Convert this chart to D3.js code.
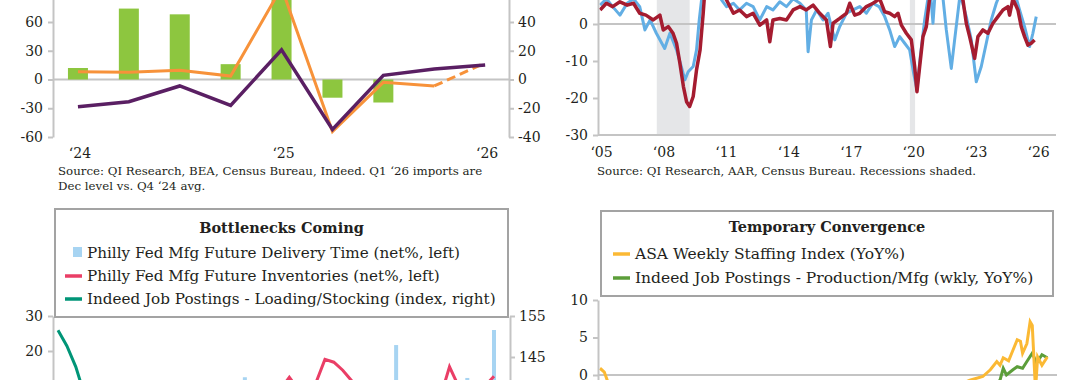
<!DOCTYPE html>
<html>
<head>
<meta charset="utf-8">
<script src="https://cdnjs.cloudflare.com/ajax/libs/d3/7.8.5/d3.min.js"></script>
<style>
  body { margin: 0; background: #fff; }
  svg { display: block; }
</style>
</head>
<body>
<svg id="chart" width="1080" height="380"></svg>
<script>
// ---------- data ----------
// top left: quarterly
const quarters = ["2024Q1", "2024Q2", "2024Q3", "2024Q4", "2025Q1", "2025Q2", "2025Q3", "2025Q4", "2026Q1"];
const quarterLabels = { "2024Q1": "\u201824", "2025Q1": "\u201825", "2026Q1": "\u201826" };
const importBars = [12, 74, 68, 16, 95, -19, -24, null, null];      // left axis
const purpleValues = [-19, -15.5, -4.5, -18, 20.6, -34.7, 2.9, 7.3, 10.1]; // right axis
const orangeValues = [5.4, 5, 6.4, 2.4, 64, -36.2, -2, -4.5, 11.5];    // right axis, last leg dashed

// top right: YoY%, 2005-2026
const railYears = [2005.2, 2005.5, 2005.8, 2006.15, 2006.5, 2006.8, 2007.1, 2007.35, 2007.6, 2007.9, 2008.3, 2008.55, 2008.87, 2009.1, 2009.27, 2009.43, 2009.67, 2009.83, 2009.96, 2010.07, 2010.3, 2010.6, 2010.9, 2011.03, 2011.27, 2011.6, 2011.9, 2012.23, 2012.55, 2012.87, 2013.2, 2013.5, 2013.83, 2014.15, 2014.47, 2014.8, 2015.1, 2015.19, 2015.35, 2015.6, 2015.91, 2016.15, 2016.47, 2016.71, 2017.03, 2017.35, 2017.67, 2017.99, 2018.3, 2018.6, 2018.87, 2019.11, 2019.35, 2019.59, 2019.83, 2020.07, 2020.26, 2020.42, 2020.58, 2020.79, 2020.95, 2021.05, 2021.19, 2021.3, 2021.5, 2021.67, 2021.83, 2022.07, 2022.23, 2022.47, 2022.6, 2022.79, 2023.03, 2023.27, 2023.51, 2023.75, 2023.99, 2024.23, 2024.4, 2024.7, 2025.0, 2025.2, 2025.35, 2025.59, 2025.83, 2025.99, 2026.15];
const railYoY = [5.1, 6.8, 4.7, 2.4, 5.6, 6.8, 4.7, -1.6, 1.1, -2.5, -6.6, -2.5, -7, -11.5, -15.1, -12.9, -11.5, -7, 1.1, 6.5, 10, 12, 9, 6.5, 4.7, 5.6, 3.8, 5.6, 4.7, 1.1, 4.7, 3.8, 6, 4.7, 6.8, 5.6, 3.8, -7.5, 1.1, 3.8, 1.1, 2.9, -4.3, -0.7, 2.9, 3.8, 4.7, 2.9, 5.6, 4.7, 2, -1.6, -6.1, -3.4, -5.2, -7, -13.3, -17.8, -8.8, 1.1, 7, 10, 0.2, 9, 12, 7, -1.6, -12, -4.3, 7, 6, 2, -4.3, -15.6, -11.5, -5.2, 1.1, 5.6, 8, 9, 8, 6.8, 3.8, -0.7, -6.1, -2.5, 2];
const salesYears = [2005.2, 2005.5, 2005.8, 2006.15, 2006.5, 2006.8, 2007.1, 2007.4, 2007.75, 2008.07, 2008.23, 2008.47, 2008.7, 2008.87, 2009.03, 2009.2, 2009.35, 2009.5, 2009.67, 2009.83, 2010.0, 2010.15, 2010.23, 2010.5, 2010.8, 2011.1, 2011.27, 2011.6, 2011.9, 2012.23, 2012.55, 2012.87, 2013.2, 2013.35, 2013.5, 2013.83, 2014.15, 2014.47, 2014.8, 2015.1, 2015.43, 2015.75, 2016.07, 2016.26, 2016.39, 2016.71, 2017.03, 2017.19, 2017.43, 2017.67, 2017.99, 2018.31, 2018.63, 2018.87, 2019.11, 2019.35, 2019.51, 2019.67, 2019.91, 2020.15, 2020.31, 2020.42, 2020.55, 2020.71, 2020.87, 2021.03, 2021.3, 2021.6, 2021.9, 2022.3, 2022.63, 2022.79, 2022.95, 2023.19, 2023.35, 2023.59, 2023.83, 2024.07, 2024.31, 2024.55, 2024.79, 2024.87, 2025.03, 2025.27, 2025.43, 2025.59, 2025.75, 2025.91, 2026.07];
const salesYoY = [3.8, 5.6, 4.7, 6, 5.1, 5.6, 2.9, 2.4, 1.1, 2.4, -1.6, -0.7, -2.5, -5.2, -10.6, -16.9, -21, -22.3, -19.6, -12.4, -7, 2.9, 9, 14, 12, 8, 6.5, 2.9, 3.8, 2, 2.9, -0.3, 1.1, -4.8, 1.1, 1.5, 1.1, 3.8, 4.7, 3.8, 5.1, 2.9, 1.1, -6.1, 0.2, 1.5, 2.9, 5.6, 2.4, 2.9, 4.7, 5.6, 6.8, 3.3, 2.9, 2, 2.9, -0.3, -2.5, -4.3, -11.5, -18.3, -11.5, -3.4, -0.7, 7, 14, 12, 10, 9, 6.5, 0.2, -3.4, -9.3, -3.4, -1.6, -2.5, 0.2, 2, 3.8, 4.7, 2.4, 6.8, 3.8, -0.7, -3.4, -5.7, -5.2, -4.3];
const recessions = [[2007.92, 2009.5], [2020.08, 2020.33]];
const yearTicks = [2005, 2008, 2011, 2014, 2017, 2020, 2023, 2026];

// bottom left: monthly index 0..49
const deliveryTime = [4, 6, 2, -3, 5, 7, 1, -2, 3, 6, 8, 2, -4, 0, 5, 3, 7, 1, -1, 4, 6, 12.5, 3, 5, -2, 2, 6, 4, 1, 7, 3, -1, 5, 8, 2, 4, 6, 3, 21.7, 5, 2, 7, 4, 1, 6, 3, 12.3, 8, 5, 26];
const inventories = [2, 4, 1, 3, -2, 0, 5, 3, 1, -1, 2, 4, 6, 3, 5, 2, 4, 7, 5, 3, 6, 4, 2, 5, 7, 9, 12.5, 9, 8, 11, 17.6, 16.8, 14.5, 11.5, 8, 6, 7, 5, 8, 6, 4, 7, 5, 7, 15.5, 10, 7, 8, 10, 12.8];
const loadingIdx = [151.5, 147.7, 142.6, 135.6, 131, 128, 126, 125, 123, 121, 120, 118, 117, 118, 116, 114, 113, 112, 111, 110, 109, 108, 107, 106, 106, 105, 104, 103, 102, 101, 100, 100, 99, 98, 97, 97, 96, 95, 95, 94, 93, 93, 92, 92, 91, 91, 90, 90, 89, 89];

// bottom right: YoY%
const asaYears = [2022.0, 2022.04, 2022.08, 2022.2, 2022.5, 2023.0, 2023.5, 2024.0, 2024.5, 2025.0, 2025.3, 2025.44, 2025.56, 2025.63, 2025.69, 2025.72, 2025.75, 2025.8, 2025.84, 2025.88, 2025.91, 2025.93, 2025.97, 2026.0, 2026.02, 2026.05, 2026.07, 2026.11, 2026.16];
const asaYoY = [0.9, 0.4, -1.2, -3, -4, -8, -10, -9, -6, -3, -1.5, -0.7, -0.2, 0.7, 1.8, 1.3, 2.3, 1.9, 3.3, 4.7, 4.5, 2.9, 4.2, 7.1, 6.6, -2, 2.4, 1.3, 2.4];
const prodYears = [2022.1, 2023.0, 2024.0, 2025.0, 2025.6, 2025.72, 2025.75, 2025.78, 2025.84, 2025.88, 2025.93, 2025.97, 2026.02, 2026.06, 2026.11, 2026.16];
const prodYoY = [-8, -15, -18, -8, -2, -0.7, 0.9, 0, 0.7, 1.1, 0.9, 1.8, 2.9, 1.6, 2.7, 2.3];

// ---------- look ----------
const serif = "'DejaVu Serif', 'Liberation Serif', serif";
const ink = "#231f20";
const axisGray = "#c4c4c4";

const svg = d3.select("#chart");
svg.append("rect").attr("width", 1080).attr("height", 380).attr("fill", "#fff");

function styleAxis(g) {
    g.attr("font-family", serif).attr("font-size", 14);
    g.select(".domain").attr("stroke", axisGray).attr("stroke-width", 2);
    g.selectAll(".tick line").attr("stroke", axisGray).attr("stroke-width", 2);
    g.selectAll(".tick text").attr("fill", ink);
}

const lineGen = (x, y) => d3.line().x(d => x(d[0])).y(d => y(d[1]));

// ================= top left =================
{
    const x = d3.scalePoint().domain(quarters).range([52.5, 510.6]).padding(0.5);
    const yL = d3.scaleLinear().domain([-60, 90]).range([137, -6.75]);
    const yR = d3.scaleLinear().domain([-40, 60]).range([137, -6.75]);
    const g = svg.append("g");

    // zero line
    g.append("line").attr("x1", 53).attr("x2", 509).attr("y1", yL(0)).attr("y2", yL(0))
        .attr("stroke", axisGray).attr("stroke-width", 2);

    g.selectAll("rect.bar")
        .data(quarters.map((q, i) => [q, importBars[i]]).filter(d => d[1] != null))
        .join("rect")
        .attr("class", "bar")
        .attr("x", d => x(d[0]) - 10)
        .attr("width", 20)
        .attr("y", d => yL(Math.max(0, d[1])))
        .attr("height", d => Math.abs(yL(d[1]) - yL(0)))
        .attr("fill", "#8dc63f");

    const xq = q => x(q);
    const orangePts = quarters.map((q, i) => [q, orangeValues[i]]);
    g.append("path").datum(orangePts.slice(0, 8))
        .attr("d", lineGen(xq, yR)).attr("fill", "none")
        .attr("stroke", "#f7923a").attr("stroke-width", 3);
    g.append("path").datum(orangePts.slice(7))
        .attr("d", lineGen(xq, yR)).attr("fill", "none")
        .attr("stroke", "#f7923a").attr("stroke-width", 3).attr("stroke-dasharray", "9,5");
    g.append("path").datum(quarters.map((q, i) => [q, purpleValues[i]]))
        .attr("d", lineGen(xq, yR)).attr("fill", "none")
        .attr("stroke", "#5a1f63").attr("stroke-width", 3.5);

    g.append("g").attr("transform", "translate(53,0)")
        .call(d3.axisLeft(yL).tickValues([-60, -30, 0, 30, 60]).tickSize(5).tickSizeOuter(0).tickPadding(5).tickFormat(d => String(d)))
        .call(styleAxis);
    g.append("g").attr("transform", "translate(509,0)")
        .call(d3.axisRight(yR).tickValues([-40, -20, 0, 20, 40]).tickSize(5).tickSizeOuter(0).tickPadding(4).tickFormat(d => String(d)))
        .call(styleAxis);

    g.selectAll("text.xl")
        .data(quarters.filter(q => quarterLabels[q]))
        .join("text").attr("class", "xl")
        .attr("x", d => x(d) + 2).attr("y", 158)
        .attr("text-anchor", "middle")
        .attr("font-family", serif).attr("font-size", 14).attr("fill", ink)
        .text(d => quarterLabels[d]);

    g.append("text").attr("x", 58).attr("y", 175)
        .attr("font-family", serif).attr("font-size", 11.8).attr("fill", ink)
        .text("Source: QI Research, BEA, Census Bureau, Indeed. Q1 \u201826 imports are");
    g.append("text").attr("x", 58).attr("y", 190)
        .attr("font-family", serif).attr("font-size", 11.8).attr("fill", ink)
        .text("Dec level vs. Q4 \u201824 avg.");
}

// ================= top right =================
{
    const x = d3.scaleLinear().domain([2005, 2027.1]).range([596, 1056]);
    const y = d3.scaleLinear().domain([-30, 10]).range([135, -13]);
    const g = svg.append("g");

    g.selectAll("rect.rec").data(recessions).join("rect").attr("class", "rec")
        .attr("x", d => x(d[0])).attr("width", d => x(d[1]) - x(d[0]))
        .attr("y", -20).attr("height", y(-30) + 20)
        .attr("fill", "#e5e6e8");

    g.append("line").attr("x1", 598).attr("x2", 1056).attr("y1", y(0)).attr("y2", y(0))
        .attr("stroke", axisGray).attr("stroke-width", 2);

    g.append("path").datum(railYears.map((t, i) => [t, railYoY[i]]))
        .attr("d", lineGen(x, y)).attr("fill", "none")
        .attr("stroke", "#62aee4").attr("stroke-width", 3).attr("stroke-linejoin", "round");
    g.append("path").datum(salesYears.map((t, i) => [t, salesYoY[i]]))
        .attr("d", lineGen(x, y)).attr("fill", "none")
        .attr("stroke", "#a51c30").attr("stroke-width", 3.5).attr("stroke-linejoin", "round");

    g.append("g").attr("transform", "translate(598,0)")
        .call(d3.axisLeft(y).tickValues([-30, -20, -10, 0]).tickSize(5).tickSizeOuter(0).tickPadding(5).tickFormat(d => String(d)))
        .call(styleAxis);
    g.append("g").attr("transform", `translate(0,${y(-30)})`)
        .call(d3.axisBottom(x).tickValues(yearTicks).tickSize(0).tickSizeOuter(0).tickPadding(12)
            .tickFormat(d => "\u2018" + String(d).slice(2)))
        .call(styleAxis)
        .call(a => a.select(".domain").attr("d", "M598,0H1056"))
        .call(a => a.selectAll(".tick text").attr("dx", 5));

    g.append("text").attr("x", 597).attr("y", 175)
        .attr("font-family", serif).attr("font-size", 11.8).attr("fill", ink)
        .text("Source: QI Research, AAR, Census Bureau. Recessions shaded.");
}

// legend box helper
function legendBox(g, box, title, items) {
    g.append("rect").attr("x", box.x).attr("y", box.y).attr("width", box.w).attr("height", box.h)
        .attr("fill", "#fff").attr("stroke", "#a3a3a3").attr("stroke-width", 2);
    g.append("text").attr("x", box.x + box.w / 2).attr("y", box.titleY)
        .attr("text-anchor", "middle").attr("font-family", serif).attr("font-weight", "bold")
        .attr("font-size", 14.5).attr("fill", ink).text(title);
    items.forEach((it, i) => {
        const yy = box.itemY[i];
        if (it.type === "square") {
            g.append("rect").attr("x", box.textX - 14).attr("y", yy - 11).attr("width", 9).attr("height", 10).attr("fill", it.color);
        } else {
            g.append("line").attr("x1", box.textX - 22).attr("x2", box.textX - 5).attr("y1", yy - 5).attr("y2", yy - 5)
                .attr("stroke", it.color).attr("stroke-width", 3.5);
        }
        g.append("text").attr("x", box.textX).attr("y", yy)
            .attr("font-family", serif).attr("font-size", box.fontSize).attr("fill", ink).text(it.label);
    });
}

// ================= bottom left =================
{
    const x = d3.scaleLinear().domain([0, 49]).range([58, 494]);
    const yL = d3.scaleLinear().domain([0, 30]).range([421, 316]);
    const yR = d3.scaleLinear().domain([125, 155]).range([439, 316]);
    const g = svg.append("g");

    g.selectAll("rect.bar").data(deliveryTime).join("rect").attr("class", "bar")
        .attr("x", (d, i) => x(i) - 2).attr("width", 4)
        .attr("y", d => yL(Math.max(0, d))).attr("height", d => Math.abs(yL(d) - yL(0)))
        .attr("fill", "#a7d4f2");
    g.append("path").datum(inventories.map((v, i) => [i, v]))
        .attr("d", lineGen(x, yL)).attr("fill", "none")
        .attr("stroke", "#ea3e66").attr("stroke-width", 3);
    g.append("path").datum(loadingIdx.map((v, i) => [i, v]))
        .attr("d", lineGen(x, yR)).attr("fill", "none")
        .attr("stroke", "#009577").attr("stroke-width", 3);

    g.append("g").attr("transform", "translate(53,0)")
        .call(d3.axisLeft(yL).tickValues([0, 10, 20, 30]).tickSize(5).tickSizeOuter(0).tickPadding(5))
        .call(styleAxis);
    g.append("g").attr("transform", "translate(510,0)")
        .call(d3.axisRight(yR).tickValues([145, 155]).tickSize(5).tickSizeOuter(0).tickPadding(4))
        .call(styleAxis);

    legendBox(g, { x: 55, y: 209, w: 453, h: 108, titleY: 233, textX: 87, itemY: [258, 281, 304], fontSize: 15.2 },
        "Bottlenecks Coming", [
            { type: "square", color: "#a7d4f2", label: "Philly Fed Mfg Future Delivery Time (net%, left)" },
            { type: "line", color: "#ea3e66", label: "Philly Fed Mfg Future Inventories (net%, left)" },
            { type: "line", color: "#009577", label: "Indeed Job Postings - Loading/Stocking (index, right)" }
        ]);
}

// ================= bottom right =================
{
    const x = d3.scaleLinear().domain([2022, 2026.25]).range([600, 1057]);
    const y = d3.scaleLinear().domain([-10, 10]).range([450, 300]);
    const g = svg.append("g");

    g.append("line").attr("x1", 598).attr("x2", 1057).attr("y1", y(0)).attr("y2", y(0))
        .attr("stroke", axisGray).attr("stroke-width", 2);
    g.append("path").datum(prodYears.map((t, i) => [t, prodYoY[i]]))
        .attr("d", lineGen(x, y)).attr("fill", "none")
        .attr("stroke", "#5c9e3a").attr("stroke-width", 3);
    g.append("path").datum(asaYears.map((t, i) => [t, asaYoY[i]]))
        .attr("d", lineGen(x, y)).attr("fill", "none")
        .attr("stroke", "#fbb934").attr("stroke-width", 3);

    g.append("g").attr("transform", "translate(598,0)")
        .call(d3.axisLeft(y).tickValues([-5, 0, 5, 10]).tickSize(5).tickSizeOuter(0).tickPadding(5))
        .call(styleAxis);

    legendBox(g, { x: 601, y: 211, w: 452, h: 85, titleY: 232, textX: 635, itemY: [259, 283], fontSize: 15.5 },
        "Temporary Convergence", [
            { type: "line", color: "#fbb934", label: "ASA Weekly Staffing Index (YoY%)" },
            { type: "line", color: "#5c9e3a", label: "Indeed Job Postings - Production/Mfg (wkly, YoY%)" }
        ]);
}
</script>
</body>
</html>
